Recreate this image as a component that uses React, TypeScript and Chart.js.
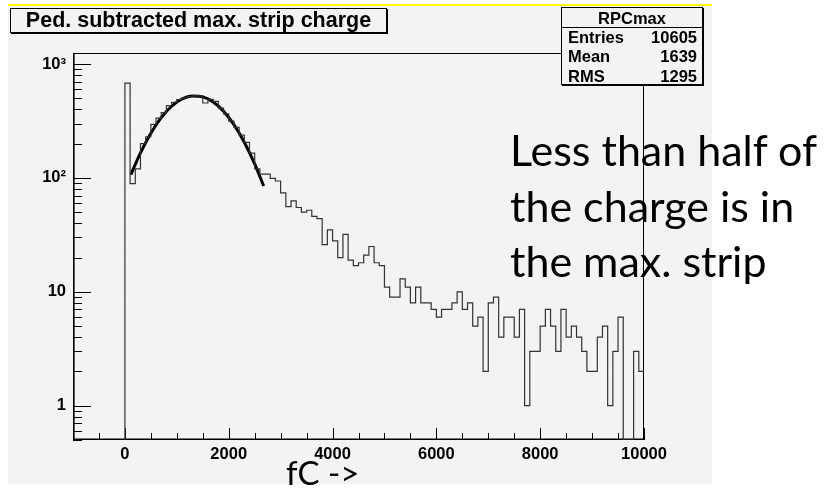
import React, { useEffect, useRef } from 'react';
import { Chart, registerables } from 'chart.js';

Chart.register(...registerables);

// ---- data ----
const BIN_WIDTH = 100; // fC per bin, bins start at 0
const binCounts = [
  680, 89, 120, 200, 230, 295, 335, 375, 432, 460,
  488, 505, 515, 525, 525, 455, 490, 470, 410, 365,
  315, 278, 238, 205, 165, 120, 108, 108, 99, 94,
  74, 56, 63, 55, 50, 52, 46, 44, 26, 35,
  28, 20, 32, 19, 17, 18, 21, 25, 18, 17,
  11, 9, 9, 13, 11, 8, 11, 8, 8, 7,
  6, 7, 7, 8, 10, 7, 8, 5, 6, 2,
  8, 9, 4, 6, 6, 4, 7, 1, 3, 3,
  5, 7, 5, 3, 7, 4, 5, 4, 3, 2,
  2, 4, 5, 1, 3, 6, 0, 0, 3, 2,
];
const fitX = [115, 300, 500, 700, 900, 1100, 1300, 1500, 1700, 1900, 2100, 2300, 2500, 2673];
const fitY = [107, 166, 247, 338, 426, 493, 525, 515, 464, 385, 294, 206, 133, 85];

const xTickValues = [0, 2000, 4000, 6000, 8000, 10000];
const yTickValues = [1, 10, 100, 1000];
const yTickLabels = ['1', '10', '10²', '10³'];
const xMin = -1000;
const xMax = 10000;
const yMin = 0.5;
const yMax = 1250;

const titleText = 'Ped. subtracted max. strip charge';
const statsName = 'RPCmax';
const statsLabels = ['Entries', 'Mean', 'RMS'];
const statsValues = ['10605', '1639', '1295'];
const noteLines = ['Less than half of', 'the charge is in', 'the max. strip'];
const xAxisLabel = 'fC ->';

const BG = '#f3f3f3';
const ROOT_FONT = '"Liberation Sans", Arial, Helvetica, sans-serif';
const NOTE_FONT = 'Lato, "Open Sans", sans-serif';

const rootLook = {
  id: 'rootLook',
  beforeDraw(chart: any) {
    const { ctx } = chart;
    ctx.save();
    ctx.fillStyle = '#ffffff';
    ctx.fillRect(0, 0, chart.width, chart.height);
    ctx.fillStyle = BG;
    ctx.fillRect(8, 6, 704, 478);
    ctx.fillStyle = '#ffff00';
    ctx.fillRect(8, 4, 704, 2);
    ctx.restore();
  },
  beforeDatasetsDraw(chart: any) {
    const { ctx, chartArea: a, scales } = chart;
    const xs = scales.x;
    const ys = scales.y;
    ctx.save();
    ctx.strokeStyle = '#000';
    ctx.lineWidth = 1;
    ctx.beginPath();
    // x ticks (inward)
    for (let v = Math.ceil(xs.min / 500) * 500; v <= xs.max; v += 500) {
      const px = Math.round(xs.getPixelForValue(v)) + 0.5;
      const len = v % 2000 === 0 ? 12 : 7;
      ctx.moveTo(px, a.bottom);
      ctx.lineTo(px, a.bottom - len);
    }
    // y ticks (inward, log)
    for (let e = -1; e <= 3; e++) {
      for (let k = 1; k <= 9; k++) {
        const v = k * Math.pow(10, e);
        if (v < ys.min || v > ys.max) continue;
        const py = Math.round(ys.getPixelForValue(v)) + 0.5;
        const len = k === 1 ? 18 : 9;
        ctx.moveTo(a.left, py);
        ctx.lineTo(a.left + len, py);
      }
    }
    ctx.stroke();
    // frame
    ctx.strokeRect(a.left + 0.5, a.top + 0.5, a.right - a.left - 1, a.bottom - a.top - 1);
    ctx.lineWidth = 1.6;
    ctx.beginPath();
    ctx.moveTo(a.left + 0.8, a.top);
    ctx.lineTo(a.left + 0.8, a.bottom - 0.8);
    ctx.lineTo(a.right, a.bottom - 0.8);
    ctx.stroke();
    ctx.restore();
  },
};

export default function App() {
  const canvasRef = useRef<HTMLCanvasElement | null>(null);

  useEffect(() => {
    const canvas = canvasRef.current;
    if (!canvas) return;

    const histPoints: { x: number; y: number }[] = [{ x: 0, y: yMin }];
    binCounts.forEach((c, i) => {
      histPoints.push({ x: i * BIN_WIDTH, y: c > 0 ? c : yMin });
    });
    const last = binCounts[binCounts.length - 1];
    histPoints.push({ x: binCounts.length * BIN_WIDTH, y: last > 0 ? last : yMin });

    const fitPoints = fitX.map((x, i) => ({ x, y: fitY[i] }));

    const tickFont = { family: ROOT_FONT, size: 16.5, weight: 'bold' as const };

    const chart = new Chart(canvas, {
      type: 'line',
      data: {
        datasets: [
          {
            data: histPoints,
            stepped: 'before',
            borderColor: '#333333',
            borderWidth: 1.2,
            pointRadius: 0,
            fill: false,
          },
          {
            data: fitPoints,
            borderColor: '#000000',
            borderWidth: 3,
            pointRadius: 0,
            cubicInterpolationMode: 'monotone',
            fill: false,
          },
        ],
      },
      options: {
        responsive: false,
        animation: false,
        events: [],
        layout: { padding: { left: 0, top: 53, right: 183, bottom: 18 } },
        plugins: {
          legend: { display: false },
          tooltip: { enabled: false },
          title: { display: false },
        },
        scales: {
          x: {
            type: 'linear',
            min: xMin,
            max: xMax,
            grid: { display: false, drawTicks: false },
            border: { display: false },
            ticks: {
              font: tickFont,
              color: '#000',
              padding: 5,
              maxRotation: 0,
              autoSkip: false,
              callback: (v: any) => String(v),
            },
            afterBuildTicks: (s: any) => {
              s.ticks = xTickValues.map((v) => ({ value: v }));
            },
            afterFit: (s: any) => {
              s.height = 30;
            },
          },
          y: {
            type: 'logarithmic',
            min: yMin,
            max: yMax,
            grid: { display: false, drawTicks: false },
            border: { display: false },
            ticks: {
              font: tickFont,
              color: '#000',
              padding: 7,
              autoSkip: false,
              callback: (v: any) => {
                const i = yTickValues.indexOf(Number(v));
                return i >= 0 ? yTickLabels[i] : '';
              },
            },
            afterBuildTicks: (s: any) => {
              s.ticks = yTickValues.map((v) => ({ value: v }));
            },
            afterFit: (s: any) => {
              s.width = 73;
            },
          },
        },
      },
      plugins: [rootLook],
    } as any);

    return () => chart.destroy();
  }, []);

  const boxStyle: React.CSSProperties = {
    position: 'absolute',
    boxSizing: 'border-box',
    background: BG,
    border: '1px solid #000',
    boxShadow: '1px 1px 0 #000',
    fontFamily: ROOT_FONT,
    fontWeight: 'bold',
    color: '#000',
  };

  return (
    <div style={{ position: 'absolute', left: 0, top: 0, width: 827, height: 488, overflow: 'hidden', background: '#fff' }}>
      <canvas ref={canvasRef} width={827} height={488} style={{ position: 'absolute', left: 0, top: 0, display: 'block' }} />
      <div
        style={{
          ...boxStyle,
          left: 10,
          top: 8,
          width: 377,
          height: 25,
          fontSize: 21.5,
          lineHeight: '23px',
          textAlign: 'center',
          whiteSpace: 'nowrap',
        }}
      >
        {titleText}
      </div>
      <div style={{ ...boxStyle, left: 561, top: 7, width: 142, height: 78, fontSize: 16.5 }}>
        <div style={{ height: 20, lineHeight: '20px', textAlign: 'center', borderBottom: '1px solid #000', boxSizing: 'border-box' }}>
          {statsName}
        </div>
        {statsLabels.map((lab, i) => (
          <div key={lab} style={{ display: 'flex', justifyContent: 'space-between', height: 19.3, lineHeight: '19.3px', padding: '0 5px 0 6px' }}>
            <span>{lab}</span>
            <span>{statsValues[i]}</span>
          </div>
        ))}
      </div>
      <div
        style={{
          position: 'absolute',
          left: 510,
          top: 122,
          fontFamily: NOTE_FONT,
          fontSize: 43,
          lineHeight: '55.5px',
          color: '#000',
          whiteSpace: 'nowrap',
        }}
      >
        {noteLines.map((l) => (
          <div key={l}>{l}</div>
        ))}
      </div>
      <div
        style={{
          position: 'absolute',
          left: 286,
          top: 452,
          fontFamily: NOTE_FONT,
          fontSize: 33,
          lineHeight: '40px',
          color: '#000',
          whiteSpace: 'nowrap',
        }}
      >
        {xAxisLabel}
      </div>
    </div>
  );
}
